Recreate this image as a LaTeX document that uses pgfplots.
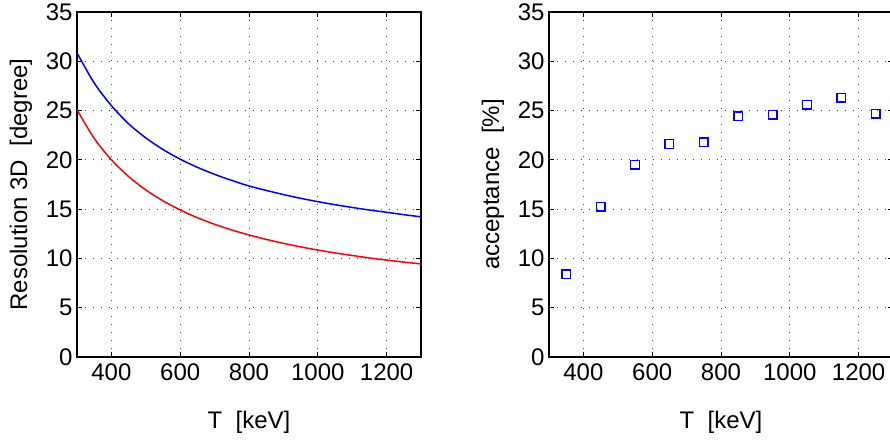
\documentclass[border=0pt]{standalone}
\usepackage{pgfplots}
\pgfplotsset{compat=1.18}
\usepackage{fontspec}
\setmainfont{Liberation Sans}

\newcommand{\bigfont}{\fontsize{24}{26}\selectfont}

\pgfplotsset{
  mstyle/.style={
    scale only axis,
    width=344pt, height=345pt,
    xmin=300, xmax=1300, ymin=0, ymax=35,
    xtick={400,600,...,1200}, ytick={0,5,...,35},
    tick align=inside, tick pos=both,
    major tick length=5pt,
    axis line style={line width=1.4pt},
    every tick/.style={black, line width=0.8pt},
    grid=major,
    grid style={black!70, line width=1pt, dash pattern=on 1pt off 7pt},
    /pgf/number format/assume math mode=true,
    /pgf/number format/1000 sep={},
    tick label style={font=\bigfont},
    xticklabel style={yshift=-3pt},
    yticklabel style={xshift=-1pt},
    every axis x label/.style={at={(axis description cs:0.5,-0.19)}, anchor=center, font=\bigfont},
    every axis y label/.style={at={(axis description cs:-0.163,0.5)}, rotate=90, anchor=center, font=\bigfont},
  }
}

\begin{document}
\begin{tikzpicture}
\begin{axis}[mstyle, at={(0,0)},
    xlabel={T \ [keV]}, ylabel={Resolution 3D \ [degree]}]
\addplot[blue, line width=1.5pt, smooth] coordinates {
  (300,30.85) (350,27.8) (400,25.5) (450,23.66) (500,22.23) (550,21.05)
  (600,20.07) (650,19.24) (700,18.53) (750,17.91) (800,17.35) (850,16.9)
  (900,16.48) (950,16.1) (1000,15.76) (1050,15.45) (1100,15.17) (1150,14.91)
  (1200,14.68) (1250,14.44) (1300,14.22)
};
\addplot[red, line width=1.5pt, smooth] coordinates {
  (300,25.08) (350,22.18) (400,20.0) (450,18.31) (500,16.95) (550,15.84)
  (600,14.92) (650,14.13) (700,13.46) (750,12.88) (800,12.38) (850,11.93)
  (900,11.53) (950,11.17) (1000,10.85) (1050,10.56) (1100,10.3) (1150,10.05)
  (1200,9.83) (1250,9.63) (1300,9.44)
};
\end{axis}
\begin{axis}[mstyle, at={(472pt,0)},
    xlabel={T \ [keV]}, ylabel={acceptance \ [\%]}]
\addplot[blue, only marks, mark=square, mark size=4.3pt,
         mark options={draw=blue, fill=none, solid, line width=1.4pt}] coordinates {
  (350,8.4) (450,15.25) (550,19.5) (650,21.6) (750,21.8)
  (850,24.4) (950,24.6) (1050,25.6) (1150,26.3) (1250,24.7)
};
\end{axis}
\pgfresetboundingbox
\path[use as bounding box] (-77pt,-84pt) rectangle (813pt,357pt);
\end{tikzpicture}
\end{document}
